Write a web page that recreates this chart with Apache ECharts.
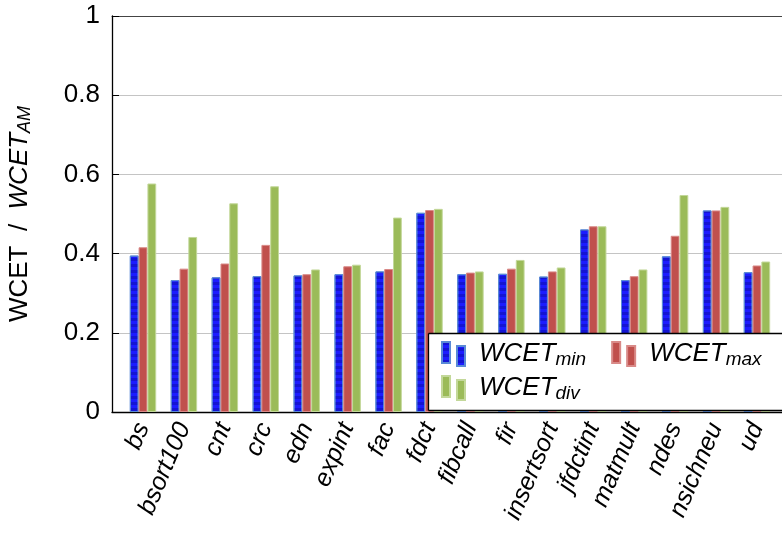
<!DOCTYPE html>
<html>
<head>
<meta charset="utf-8">
<script src="https://cdn.jsdelivr.net/npm/echarts@6/dist/echarts.min.js"></script>
<style>
  html, body { margin: 0; padding: 0; background: #fff; }
  #main { width: 782px; height: 537px; }
</style>
</head>
<body>
<div id="main"></div>
<script>
// benchmarks on the x axis
var benchmarks = ['bs', 'bsort100', 'cnt', 'crc', 'edn', 'expint', 'fac', 'fdct',
    'fibcall', 'fir', 'insertsort', 'jfdctint', 'matmult', 'ndes', 'nsichneu', 'ud'];
// WCET / WCET_AM per benchmark
var wcetMin = [0.395, 0.333, 0.340, 0.343, 0.345, 0.348, 0.355, 0.503,
    0.348, 0.349, 0.342, 0.461, 0.333, 0.393, 0.509, 0.353];
var wcetMax = [0.416, 0.362, 0.375, 0.422, 0.348, 0.368, 0.361, 0.510,
    0.352, 0.362, 0.355, 0.469, 0.343, 0.445, 0.509, 0.370];
var wcetDiv = [0.577, 0.442, 0.527, 0.570, 0.360, 0.372, 0.491, 0.513,
    0.355, 0.384, 0.365, 0.469, 0.360, 0.548, 0.518, 0.380];
var yTicks = [0, 0.2, 0.4, 0.6, 0.8, 1];

var font = '"Liberation Sans", Arial, sans-serif';
var subs = { WCET_min: 'min', WCET_max: 'max', WCET_div: 'div' };

function toPairs(arr) {
    var out = [];
    for (var i = 0; i < arr.length; i++) out.push([i, arr[i]]);
    return out;
}

var legendText = {
    fontFamily: font,
    rich: {
        g: { width: 9 },
        w: { fontSize: 26, fontStyle: 'italic', fontFamily: font, color: '#000' },
        s: { fontSize: 19, fontStyle: 'italic', fontFamily: font, color: '#000', verticalAlign: 'bottom', padding: [11, 0, 0, 0] }
    }
};
var legendFmt = function (name) {
    return '{g|}{w|WCET}{s|' + subs[name] + '}';
};
var barIcon = 'path://M0,0h8v21h-8zM15,4h8v20h-8z';
var boxStroke = { stroke: '#000', lineWidth: 1.3 };

var chart = echarts.init(document.getElementById('main'));
var option = {
    animation: false,
    grid: {
        left: 112, top: 16, right: -6, bottom: 125,
        outerBoundsMode: 'none'
    },
    // legend box, open on the right: it runs off the picture
    graphic: [{
        type: 'rect',
        z: 100,
        shape: { x: 429, y: 334, width: 360, height: 76 },
        style: { fill: '#fff' }
    }, {
        type: 'line', z: 101,
        shape: { x1: 428.5, y1: 333.5, x2: 790, y2: 333.5 },
        style: boxStroke
    }, {
        type: 'line', z: 101,
        shape: { x1: 428.5, y1: 410.5, x2: 790, y2: 410.5 },
        style: boxStroke
    }, {
        type: 'line', z: 101,
        shape: { x1: 428.5, y1: 333.5, x2: 428.5, y2: 410.5 },
        style: boxStroke
    }],
    legend: [{
        z: 200,
        left: 436, top: 336,
        itemGap: 25,
        itemWidth: 23, itemHeight: 24,
        icon: barIcon,
        data: ['WCET_min', 'WCET_max'],
        formatter: legendFmt,
        textStyle: legendText
    }, {
        z: 200,
        left: 436, top: 370,
        itemWidth: 23, itemHeight: 24,
        icon: barIcon,
        data: ['WCET_div'],
        formatter: legendFmt,
        textStyle: legendText
    }],
    xAxis: [{
        type: 'value',
        min: -0.758,
        max: 15.758,
        splitLine: { show: false },
        axisTick: { show: false },
        axisLine: { onZero: false, lineStyle: { color: '#000', width: 1.3 } },
        axisLabel: {
            customValues: benchmarks.map(function (b, i) { return i; }),
            formatter: function (v) { return benchmarks[Math.round(v)]; },
            rotate: 67,
            margin: 12,
            fontSize: 25,
            fontStyle: 'italic',
            fontFamily: font,
            color: '#000'
        }
    }, {
        // top frame line
        type: 'value',
        position: 'top',
        min: -0.758,
        max: 15.758,
        splitLine: { show: false },
        axisTick: { show: false },
        axisLabel: { show: false },
        axisLine: { onZero: false, lineStyle: { color: '#444', width: 1.2 } }
    }],
    yAxis: {
        type: 'value',
        min: 0,
        max: 1,
        interval: 0.2,
        name: '{a|WCET  /  }{b|WCET}{c|AM}',
        nameLocation: 'middle',
        nameRotate: 90,
        nameGap: 78,
        nameTextStyle: {
            rich: {
                a: { fontSize: 26, fontFamily: font, color: '#000' },
                b: { fontSize: 26, fontFamily: font, fontStyle: 'italic', color: '#000' },
                c: { fontSize: 18, fontFamily: font, fontStyle: 'italic', color: '#000', verticalAlign: 'bottom', padding: [10, 0, 0, 0] }
            }
        },
        axisLine: { show: true, onZero: false, lineStyle: { color: '#000', width: 1.3 } },
        axisTick: { show: true, inside: true, length: 7, lineStyle: { color: '#000' } },
        splitLine: { lineStyle: { color: '#c4c4c4', width: 1.2 } },
        axisLabel: {
            fontSize: 26,
            fontFamily: font,
            color: '#000',
            margin: 12,
            formatter: function (v) {
                return yTicks.indexOf(v) >= 0 ? String(v) : '';
            }
        }
    },
    series: [{
        name: 'WCET_min',
        type: 'bar',
        barWidth: 8.8,
        barGap: '0%',
        data: toPairs(wcetMin),
        itemStyle: {
            color: '#1c1cff',
            borderColor: '#5a8ad6',
            borderWidth: 1,
            decal: {
                symbol: 'rect',
                color: 'rgba(0,0,110,0.3)',
                dashArrayX: [1, 0],
                dashArrayY: [3, 3],
                rotation: 0
            }
        }
    }, {
        name: 'WCET_max',
        type: 'bar',
        barWidth: 8.8,
        barGap: '0%',
        data: toPairs(wcetMax),
        itemStyle: { color: '#c0504d', borderColor: '#d98a88', borderWidth: 1 }
    }, {
        name: 'WCET_div',
        type: 'bar',
        barWidth: 8.8,
        barGap: '0%',
        data: toPairs(wcetDiv),
        itemStyle: { color: '#9bbb59', borderColor: '#c3d89a', borderWidth: 1 }
    }]
};
chart.setOption(option);
</script>
</body>
</html>
